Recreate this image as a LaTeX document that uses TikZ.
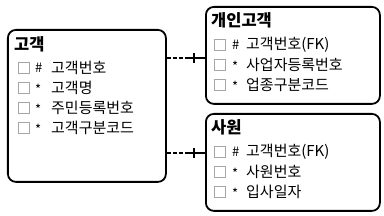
\documentclass[tikz,border=0pt]{standalone}
\usepackage{fontspec}
\newfontfamily\kr{Noto Sans CJK KR}
\tikzset{
  ent/.style={draw, line width=1.8pt, rounded corners=8pt, anchor=north west, inner sep=0pt},
  ttl/.style={anchor=west, inner sep=0pt, font=\kr\bfseries\fontsize{16.5}{16.5}\selectfont},
  cb/.style={draw=gray!70, line width=0.8pt, minimum size=10.5pt, inner sep=0pt},
  sym/.style={anchor=west, inner sep=0pt, font=\kr\fontsize{13}{13}\selectfont},
  txt/.style={anchor=west, inner sep=0pt, font=\kr\fontsize{15}{15}\selectfont},
  rel/.style={line width=1.2pt}
}
\begin{document}
\begin{tikzpicture}[x=1pt,y=-1pt]
\useasboundingbox (0,0) rectangle (384,216);
% entities
\node[ent, minimum width=158pt, minimum height=152pt] (cust) at (7,29) {};
\node[ent, minimum width=174pt, minimum height=97pt] (indiv) at (205,6) {};
\node[ent, minimum width=174pt, minimum height=97pt] (emp) at (205,113) {};
% customer
\node[ttl] (t1) at (14,44) {고객};
\node[cb] (b11) at (24,68) {}; \node[sym] (s11) at (35,68) {\#}; \node[txt] (x11) at (51,68) {고객번호};
\node[cb] (b12) at (24,88) {}; \node[sym] (s12) at (35,89) {*}; \node[txt] (x12) at (51,88) {고객명};
\node[cb] (b13) at (24,108) {}; \node[sym] (s13) at (35,109) {*}; \node[txt] (x13) at (51,108) {주민등록번호};
\node[cb] (b14) at (24,128) {}; \node[sym] (s14) at (35,129) {*}; \node[txt] (x14) at (51,128) {고객구분코드};
% individual customer
\node[ttl] (t2) at (211,20) {개인고객};
\node[cb] (b21) at (220,45) {}; \node[sym] (s21) at (232,45) {\#}; \node[txt] (x21) at (246,45) {고객번호(FK)};
\node[cb] (b22) at (220,65) {}; \node[sym] (s22) at (232,66) {*}; \node[txt] (x22) at (246,65) {사업자등록번호};
\node[cb] (b23) at (220,85) {}; \node[sym] (s23) at (232,86) {*}; \node[txt] (x23) at (246,85) {업종구분코드};
% employee
\node[ttl] (t3) at (211,127) {사원};
\node[cb] (b31) at (220,152) {}; \node[sym] (s31) at (232,152) {\#}; \node[txt] (x31) at (246,152) {고객번호(FK)};
\node[cb] (b32) at (220,172) {}; \node[sym] (s32) at (232,173) {*}; \node[txt] (x32) at (246,172) {사원번호};
\node[cb] (b33) at (220,192) {}; \node[sym] (s33) at (232,193) {*}; \node[txt] (x33) at (246,192) {입사일자};
% relationships
\coordinate (m1) at (185,58);
\coordinate (k1) at (194,58);
\draw[rel, dashed, dash pattern=on 4pt off 2pt] (cust.east |- m1) -- (m1);
\draw[rel] (m1) -- (indiv.west |- m1);
\draw[rel] ([yshift=-5pt]k1) -- ([yshift=5pt]k1);
\coordinate (m2) at (185,153);
\coordinate (k2) at (194,153);
\draw[rel, dashed, dash pattern=on 4pt off 2pt] (cust.east |- m2) -- (m2);
\draw[rel] (m2) -- (emp.west |- m2);
\draw[rel] ([yshift=-5pt]k2) -- ([yshift=5pt]k2);
\end{tikzpicture}
\end{document}
